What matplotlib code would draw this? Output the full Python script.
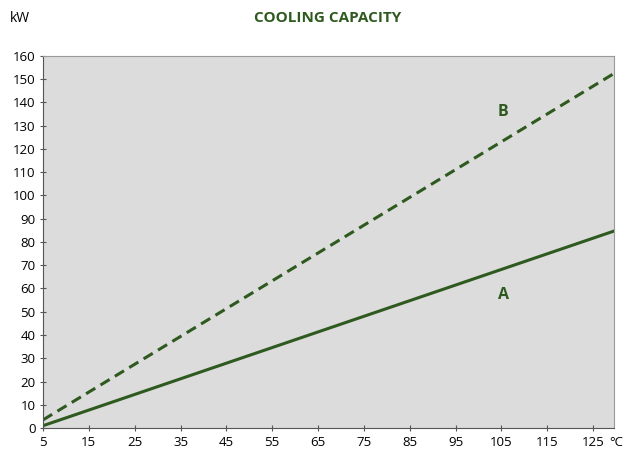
import numpy as np
import matplotlib
matplotlib.use("Agg")
import matplotlib.pyplot as plt

GREEN = "#2f5a1f"

temps = [5, 130]
capacity_a = [1, 85]
capacity_b = [3.5, 153]
x_ticks = [5, 15, 25, 35, 45, 55, 65, 75, 85, 95, 105, 115, 125]
y_ticks = list(range(0, 170, 10))

plt.rcParams["font.family"] = ["Open Sans", "DejaVu Sans"]

fig = plt.figure(figsize=(6.28, 4.55), dpi=100)
ax = fig.add_axes([0.0685, 0.0593, 0.9095, 0.8177])
ax.set_facecolor("#dcdcdc")

ax.plot(temps, capacity_a, color=GREEN, lw=2.2, solid_capstyle="butt")
ax.plot(temps, capacity_b, color=GREEN, lw=2.2, linestyle=(0, (3.5, 2)))

ax.text(105.3, 136, "B", color=GREEN, fontsize=11.5, fontweight="bold", ha="center", va="center")
ax.text(105.5, 57, "A", color=GREEN, fontsize=11.5, fontweight="bold", ha="center", va="center")

ax.set_xlim(5, 129.6)
ax.set_ylim(0, 160)
ax.set_xticks(x_ticks)
ax.set_yticks(y_ticks)
ax.tick_params(direction="inout", length=5, width=0.8, color="#555555", labelsize=9.5, pad=3)
for s in ax.spines.values():
    s.set_color("#9a9a9a")
    s.set_linewidth(0.8)
ax.spines["left"].set_color("#555555")
ax.spines["bottom"].set_color("#555555")

fig.text(0.032, 0.96, "kW", fontsize=10, ha="center", va="center")
fig.text(0.522, 0.96, "COOLING CAPACITY", fontsize=11, fontweight="bold", color=GREEN, ha="center", va="center")
fig.text(0.982, 0.028, "°C", fontsize=9.5, ha="center", va="center")

fig.savefig("out.png", dpi=100)
